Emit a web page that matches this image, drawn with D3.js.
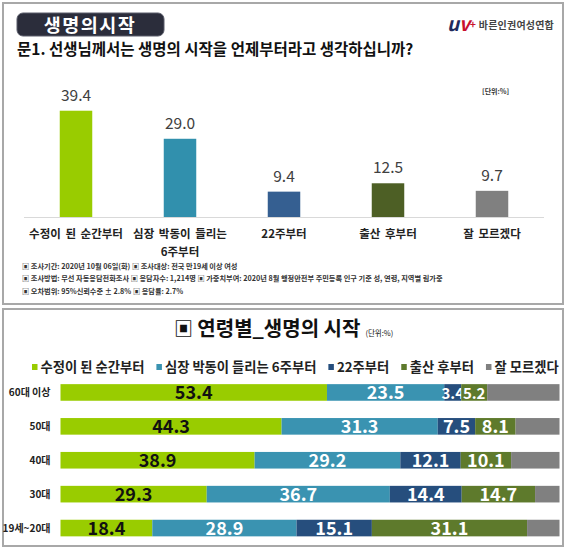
<!DOCTYPE html>
<html><head><meta charset="utf-8">
<script src="https://cdn.jsdelivr.net/npm/d3@7"></script>
<style>
html,body{margin:0;padding:0;background:#fff;}
svg{display:block;}
text{font-family:"Noto Sans CJK KR","Noto Sans",sans-serif;}
</style></head>
<body>
<script>
// ---------- data ----------
const pageTitle = "생명의시작";
const question = "문1. 선생님께서는 생명의 시작을 언제부터라고 생각하십니까?";
const orgName = "바른인권여성연합";
const unitLabel = "[단위:%]";
const topCategories = ["수정이 된 순간부터", "심장 박동이 들리는 6주부터", "22주부터", "출산 후부터", "잘 모르겠다"];
const topCategoryLines = [["수정이 된 순간부터"], ["심장 박동이 들리는", "6주부터"], ["22주부터"], ["출산 후부터"], ["잘 모르겠다"]];
const topValues = [39.4, 29.0, 9.4, 12.5, 9.7];
const notes = [
  "▣ 조사기간: 2020년 10월 06일(화)  ▣ 조사대상: 전국 만19세 이상 여성",
  "▣ 조사방법: 무선 자동응답전화조사  ▣ 응답자수: 1,214명  ▣ 가중치부여: 2020년 8월 행정안전부 주민등록 인구 기준 성, 연령, 지역별 림가중",
  "▣ 오차범위: 95%신뢰수준 ± 2.8%  ▣ 응답률: 2.7%"
];
const ageTitle = "연령별_생명의 시작";
const ageUnit = "(단위:%)";
const ageGroups = ["60대 이상", "50대", "40대", "30대", "19세~20대"];
const seriesNames = ["수정이 된 순간부터", "심장 박동이 들리는 6주부터", "22주부터", "출산 후부터", "잘 모르겠다"];
const fromConception = [53.4, 44.3, 38.9, 29.3, 18.4];
const fromHeartbeat = [23.5, 31.3, 29.2, 36.7, 28.9];
const from22Weeks = [3.4, 7.5, 12.1, 14.4, 15.1];
const afterBirth = [5.2, 8.1, 10.1, 14.7, 31.1];
const dontKnow = [14.5, 8.8, 9.7, 4.9, 6.5];

const topColors = ["#99cc00", "#3190ad", "#355f91", "#4d5f25", "#808080"];
const stackColors = ["#99cc00", "#3a93b1", "#264e7d", "#5e7a2c", "#808080"];

// ---------- svg ----------
const W = 566, H = 549;
const svg = d3.select("body").append("svg").attr("width", W).attr("height", H);
svg.append("rect").attr("width", W).attr("height", H).attr("fill", "#fff");

// panels
svg.append("rect").attr("x", 3).attr("y", 3).attr("width", 560).attr("height", 301)
  .attr("fill", "#fff").attr("stroke", "#a8a8a8").attr("stroke-width", 2);
svg.append("rect").attr("x", 3).attr("y", 309).attr("width", 560).attr("height", 237)
  .attr("fill", "#fff").attr("stroke", "#a8a8a8").attr("stroke-width", 2);

// ---------- top panel ----------
svg.append("rect").attr("x", 17).attr("y", 13).attr("width", 147).attr("height", 23)
  .attr("rx", 6).attr("fill", "#2b2d3b").attr("stroke", "#5a5c6a").attr("stroke-width", 1);
svg.append("text").attr("x", 90).attr("y", 32).attr("text-anchor", "middle")
  .attr("fill", "#fff").attr("font-size", 18.5).attr("font-weight", "bold")
  .attr("letter-spacing", 1.5).text(pageTitle);

// logo
const logo = svg.append("text").attr("x", 447).attr("y", 31)
  .attr("font-family", "DejaVu Serif").attr("font-style", "italic").attr("font-weight", "bold").attr("font-size", 19);
logo.append("tspan").attr("fill", "#1f2a5c").text("u");
logo.append("tspan").attr("fill", "#c8102e").text("v");
logo.append("tspan").attr("fill", "#c8102e").attr("font-size", 10).attr("font-style", "normal").attr("dy", -3).text("+");
svg.append("text").attr("x", 554).attr("y", 29).attr("text-anchor", "end").attr("font-size", 10).attr("font-weight", "bold")
  .attr("fill", "#444").attr("letter-spacing", 0.2).text(orgName);

svg.append("text").attr("x", 17).attr("y", 55).attr("font-size", 15.5).attr("font-weight", "bold")
  .attr("fill", "#111").text(question);

svg.append("text").attr("x", 482).attr("y", 94).attr("font-size", 7).attr("font-weight", "bold")
  .attr("fill", "#333").text(unitLabel);

const xTop = d3.scaleBand().domain(topCategories).range([24, 544]).paddingInner(0.6875).paddingOuter(0.34375);
const yTop = d3.scaleLinear().domain([0, 40]).range([217, 109.1]);

svg.append("line").attr("x1", 24).attr("x2", 544).attr("y1", yTop(0) + 0.5).attr("y2", yTop(0) + 0.5)
  .attr("stroke", "#d9d9d9").attr("stroke-width", 1);

svg.append("g").selectAll("rect").data(topValues).join("rect")
  .attr("x", (d, i) => xTop(topCategories[i]))
  .attr("y", d => yTop(d))
  .attr("width", xTop.bandwidth())
  .attr("height", d => yTop(0) - yTop(d))
  .attr("fill", (d, i) => topColors[i]);

svg.append("g").selectAll("text").data(topValues).join("text")
  .attr("x", (d, i) => xTop(topCategories[i]) + xTop.bandwidth() / 2)
  .attr("y", d => yTop(d) - 10)
  .attr("text-anchor", "middle").attr("font-size", 15.5).attr("fill", "#404040")
  .attr("font-family", "Noto Sans, sans-serif")
  .text(d => d.toFixed(1));

const catG = svg.append("g");
topCategoryLines.forEach((lines, i) => {
  const t = catG.append("text")
    .attr("x", xTop(topCategories[i]) + xTop.bandwidth() / 2)
    .attr("y", 238).attr("text-anchor", "middle").attr("font-size", 11.5)
    .attr("font-weight", "bold").attr("fill", "#222");
  lines.forEach((ln, j) => t.append("tspan")
    .attr("x", xTop(topCategories[i]) + xTop.bandwidth() / 2)
    .attr("dy", j === 0 ? 0 : 18).attr("word-spacing", 2).text(ln));
});

svg.append("g").selectAll("text").data(notes).join("text")
  .attr("x", 22).attr("y", (d, i) => 269 + i * 12.3)
  .attr("font-size", 7.2).attr("font-weight", "bold").attr("fill", "#333")
  .text(d => d);

// ---------- bottom panel ----------
const tt = svg.append("text").attr("x", 174).attr("y", 336).attr("fill", "#111");
tt.append("tspan").attr("font-size", 19).attr("font-weight", "bold").text("▣ ");
tt.append("tspan").attr("font-size", 20).attr("font-weight", "bold").text(ageTitle);
tt.append("tspan").attr("font-size", 7.5).attr("dx", 5).text(ageUnit);

const rows = ageGroups.map((g, i) => ({
  group: g,
  s0: fromConception[i], s1: fromHeartbeat[i], s2: from22Weeks[i], s3: afterBirth[i], s4: dontKnow[i]
}));
const keys = ["s0", "s1", "s2", "s3", "s4"];
const stacked = d3.stack().keys(keys)(rows);

const xS = d3.scaleLinear().domain([0, 100]).range([60.5, 559.5]);
const yS = d3.scaleBand().domain(ageGroups).range([375.5, 545]).paddingInner(0.51).paddingOuter(0.255);

// legend
const leg = svg.append("g");
let lx = 32;
seriesNames.forEach((name, i) => {
  leg.append("rect").attr("x", lx).attr("y", 364).attr("width", 5.5).attr("height", 6).attr("fill", stackColors[i]);
  const t = leg.append("text").attr("x", lx + 8.5).attr("y", 371.5).attr("font-size", 13.3)
    .attr("font-weight", "bold").attr("fill", "#222").text(name);
  lx += 8.5 + t.node().getComputedTextLength() + 12;
});

// bars
stacked.forEach((layer, k) => {
  svg.append("g").selectAll("rect").data(layer).join("rect")
    .attr("x", d => xS(d[0]))
    .attr("y", d => yS(d.data.group))
    .attr("width", d => xS(d[1]) - xS(d[0]))
    .attr("height", yS.bandwidth())
    .attr("fill", stackColors[k]);
  if (k < 4) {
    svg.append("g").selectAll("text").data(layer).join("text")
      .attr("x", d => (xS(d[0]) + xS(d[1])) / 2)
      .attr("y", d => yS(d.data.group) + yS.bandwidth() / 2 + 6.5)
      .attr("text-anchor", "middle")
      .attr("font-family", "Liberation Sans, Arial, sans-serif")
      .attr("font-size", d => (xS(d[1]) - xS(d[0]) < 28 ? 15 : 18)).attr("font-weight", "bold")
      .attr("fill", k === 0 ? "#111" : "#fff")
      .text(d => (d[1] - d[0]).toFixed(1));
  }
});

// age labels
svg.append("g").selectAll("text").data(ageGroups).join("text")
  .attr("x", 50.5).attr("y", d => yS(d) + yS.bandwidth() / 2 + 3.5)
  .attr("text-anchor", "end").attr("font-size", 10).attr("font-weight", "bold").attr("fill", "#222")
  .text(d => d);
</script>
</body></html>
